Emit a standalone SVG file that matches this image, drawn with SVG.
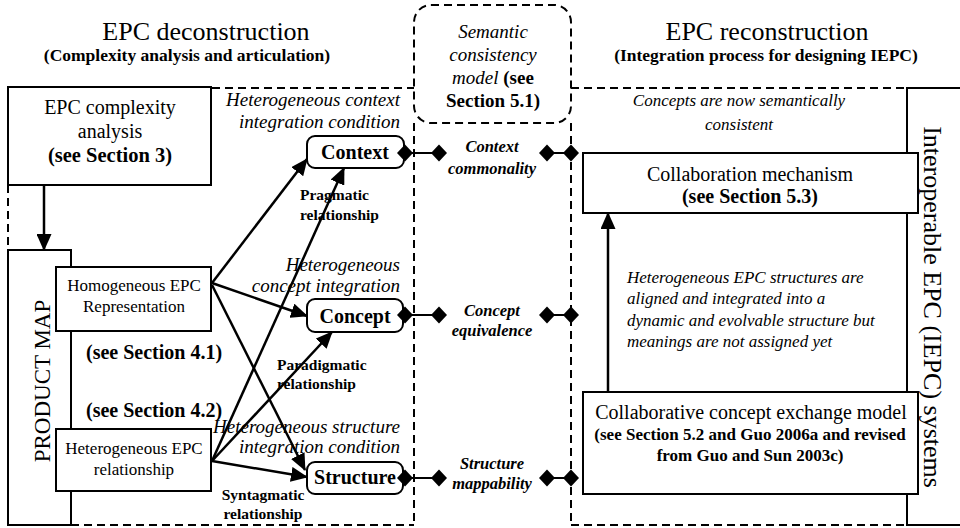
<svg xmlns="http://www.w3.org/2000/svg" width="960" height="528" viewBox="0 0 960 528">
<style>
text{font-family:"Liberation Serif","Times New Roman",serif;fill:#000}
.box{fill:#fff;stroke:#000;stroke-width:2}
.dash{fill:none;stroke:#000;stroke-width:2;stroke-dasharray:8 5}
.solid{fill:none;stroke:#000;stroke-width:2}
.arrow{fill:none;stroke:#000;stroke-width:2.5;marker-end:url(#ah)}
.link{stroke:#000;stroke-width:2}
.b{font-weight:bold}
.i{font-style:italic}
.c{text-anchor:middle}
.e{text-anchor:end}
</style>
<defs>
<marker id="ah" markerUnits="userSpaceOnUse" markerWidth="17" markerHeight="15" viewBox="0 0 17 15" refX="16" refY="7.5" orient="auto"><path d="M0,0 L17,7.5 L0,15 z" fill="#000"/></marker>
<path id="dia" d="M0,-8.5 L8,0 L0,8.5 L-8,0 z" fill="#000"/>
</defs>
<rect width="960" height="528" fill="#fff"/>

<g id="frames">
<path class="dash" d="M212,88 H414 M8,185 V250 M71,525 H414 M414,123 V525 M571,123 V525 M571,88 H907 M571,525 H907"/>
<rect class="dash" x="414" y="5" width="157" height="118" rx="17"/>
<rect class="solid" x="907" y="88" width="60" height="437"/>
<rect class="solid" x="8" y="250" width="63" height="275"/>
</g>

<g id="headers">
<text class="c" x="206" y="40" font-size="26">EPC deconstruction</text>
<text class="c b" x="187" y="61" font-size="17.5">(Complexity analysis and articulation)</text>
<text class="c" x="767" y="40" font-size="26">EPC reconstruction</text>
<text class="c b" x="766" y="61" font-size="17.5">(Integration process for designing IEPC)</text>
</g>

<g id="semantic-model">
<text class="c i" x="493" y="38" font-size="19">Semantic</text>
<text class="c i" x="493" y="61" font-size="19">consistency</text>
<text class="c" x="493" y="84" font-size="19"><tspan class="i">model</tspan><tspan class="b"> (see</tspan></text>
<text class="c b" x="493" y="107" font-size="19">Section 5.1)</text>
</g>

<g id="epc-complexity">
<rect class="box" x="8" y="87" width="203" height="98"/>
<text class="c" x="110" y="114" font-size="20">EPC complexity</text>
<text class="c" x="110" y="138" font-size="20">analysis</text>
<text class="c b" x="110" y="162" font-size="20.5">(see Section 3)</text>
</g>

<g id="product-map">
<text class="c" transform="translate(50,381) rotate(-90)" font-size="23">PRODUCT MAP</text>
</g>

<g id="homogeneous">
<rect class="box" x="56" y="267" width="155" height="64"/>
<text class="c" x="134" y="291" font-size="17">Homogeneous EPC</text>
<text class="c" x="134" y="312" font-size="17">Representation</text>
</g>
<text class="b" x="86" y="359" font-size="20">(see Section 4.1)</text>
<text class="b" x="86" y="417" font-size="20">(see Section 4.2)</text>

<g id="heterogeneous">
<rect class="box" x="56" y="429" width="155" height="62"/>
<text class="c" x="134" y="454" font-size="17">Heterogeneous EPC</text>
<text class="c" x="134" y="475" font-size="17">relationship</text>
</g>

<g id="context">
<text class="e i" x="400" y="106" font-size="19">Heterogeneous context</text>
<text class="e i" x="400" y="128" font-size="19">integration condition</text>
<rect class="box" x="307" y="136" width="97" height="32" rx="8"/>
<text class="c b" x="355" y="159" font-size="20">Context</text>
</g>

<g id="concept">
<text class="e i" x="400" y="271" font-size="19">Heterogeneous</text>
<text class="e i" x="400" y="292" font-size="19">concept integration</text>
<rect class="box" x="307" y="299" width="96" height="33" rx="8"/>
<text class="c b" x="355" y="323" font-size="20">Concept</text>
</g>

<g id="structure">
<text class="e i" x="400" y="433" font-size="19">Heterogeneous structure</text>
<text class="e i" x="400" y="453" font-size="19">integration condition</text>
<rect class="box" x="307" y="462" width="96" height="32" rx="8"/>
<text class="c b" x="355" y="484" font-size="20">Structure</text>
</g>

<g id="relation-labels">
<text class="b" x="300" y="200" font-size="15.5">Pragmatic</text>
<text class="b" x="300" y="220" font-size="15.5">relationship</text>
<text class="b" x="277" y="370" font-size="15.5">Paradigmatic</text>
<text class="b" x="277" y="389" font-size="15.5">relationship</text>
<text class="c b" x="263" y="500" font-size="15.5">Syntagmatic</text>
<text class="c b" x="263" y="519" font-size="15.5">relationship</text>
</g>

<g id="consistency-labels">
<text class="c b i" x="492" y="152" font-size="16.5">Context</text>
<text class="c b i" x="492" y="174" font-size="16.5">commonality</text>
<text class="c b i" x="492" y="316" font-size="16.5">Concept</text>
<text class="c b i" x="492" y="336" font-size="16.5">equivalence</text>
<text class="c b i" x="492" y="469" font-size="16.5">Structure</text>
<text class="c b i" x="492" y="489" font-size="16.5">mappability</text>
</g>

<g id="reconstruction-notes">
<text class="c i" x="739" y="106" font-size="17">Concepts are now semantically</text>
<text class="c i" x="739" y="130" font-size="17">consistent</text>
<text class="i" x="627" y="283" font-size="17">Heterogeneous EPC structures are</text>
<text class="i" x="627" y="304" font-size="17">aligned and integrated into a</text>
<text class="i" x="627" y="326" font-size="17">dynamic and evolvable structure but</text>
<text class="i" x="627" y="347" font-size="17">meanings are not assigned yet</text>
</g>

<g id="collaboration-mechanism">
<rect class="box" x="583" y="153" width="335" height="60"/>
<text class="c" x="750" y="181" font-size="20">Collaboration mechanism</text>
<text class="c b" x="750" y="203" font-size="20">(see Section 5.3)</text>
</g>

<g id="collaborative-model">
<rect class="box" x="583" y="392" width="335" height="102"/>
<text class="c" x="751" y="419" font-size="20">Collaborative concept exchange model</text>
<text class="c b" x="750" y="440" font-size="17">(see Section 5.2 and Guo 2006a and revised</text>
<text class="c b" x="750" y="461" font-size="17">from Guo and Sun 2003c)</text>
</g>

<g id="iepc">
<text class="c" transform="translate(924,307) rotate(90)" font-size="26">Interoperable EPC (IEPC) systems</text>
</g>

<g id="connectors">
<line class="arrow" x1="44" y1="185" x2="44" y2="250"/>
<line class="arrow" x1="212" y1="283" x2="307" y2="159"/>
<line class="arrow" x1="212" y1="283" x2="307" y2="316"/>
<line class="arrow" x1="212" y1="285" x2="305" y2="470"/>
<line class="arrow" x1="212" y1="461" x2="344" y2="168"/>
<line class="arrow" x1="212" y1="461" x2="332" y2="332"/>
<line class="arrow" x1="212" y1="461" x2="307" y2="477"/>
<line class="arrow" x1="608" y1="392" x2="608" y2="213"/>
<line class="link" x1="405" y1="153" x2="439" y2="153"/>
<line class="link" x1="547" y1="153" x2="571" y2="153"/>
<line class="link" x1="405" y1="315" x2="439" y2="315"/>
<line class="link" x1="547" y1="315" x2="571" y2="315"/>
<line class="link" x1="405" y1="478" x2="439" y2="478"/>
<line class="link" x1="547" y1="478" x2="571" y2="478"/>
<use href="#dia" x="405" y="153"/><use href="#dia" x="439" y="153"/><use href="#dia" x="547" y="153"/><use href="#dia" x="571" y="153"/>
<use href="#dia" x="405" y="315"/><use href="#dia" x="439" y="315"/><use href="#dia" x="547" y="315"/><use href="#dia" x="571" y="315"/>
<use href="#dia" x="405" y="478"/><use href="#dia" x="439" y="478"/><use href="#dia" x="547" y="478"/><use href="#dia" x="571" y="478"/>
</g>
</svg>
